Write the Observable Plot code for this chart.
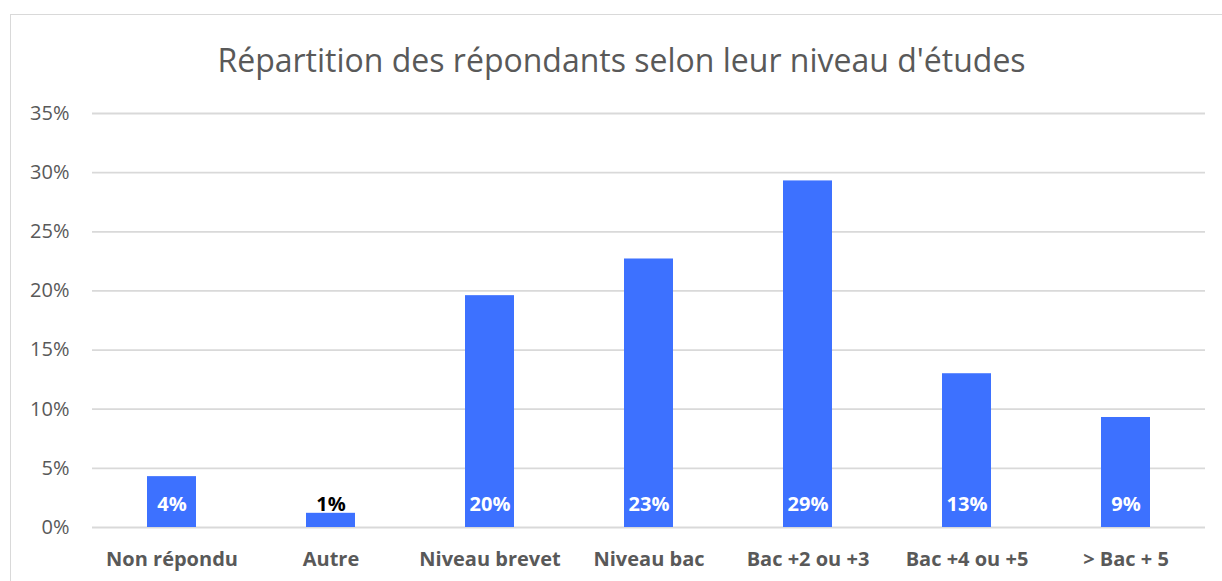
<!DOCTYPE html>
<html>
<head>
<meta charset="utf-8">
<script src="https://cdn.jsdelivr.net/npm/d3@7"></script>
<script src="https://cdn.jsdelivr.net/npm/@observablehq/plot@0.6"></script>
<style>
  html, body { margin: 0; padding: 0; background: #fff; overflow: hidden; }
  #frame { position: absolute; left: 10px; top: 14px; width: 1230px; height: 600px; border: 1.5px solid #d9d9d9; box-sizing: border-box; }
  #title { position: absolute; left: 0; top: 38px; width: 1243px; text-align: center; font-family: "Open Sans", sans-serif; font-size: 32px; color: #595959; line-height: 44px; }
  #chart { position: absolute; left: 0; top: 90px; }
</style>
</head>
<body>
<div id="frame"></div>
<div id="title">Répartition des répondants selon leur niveau d'études</div>
<div id="chart"></div>
<script>
const categories = ["Non répondu", "Autre", "Niveau brevet", "Niveau bac", "Bac +2 ou +3", "Bac +4 ou +5", "> Bac + 5"];
const values = [0.043, 0.012, 0.196, 0.227, 0.293, 0.130, 0.093];
const yTicks = [0, 0.05, 0.10, 0.15, 0.20, 0.25, 0.30, 0.35];

const data = categories.map((c, i) => ({category: c, value: values[i]}));
const fmt = d3.format(".0%");

const chart = Plot.plot({
  width: 1222,
  height: 492,
  marginLeft: 92,
  marginRight: 17,
  marginTop: 23,
  marginBottom: 55,
  style: { fontFamily: "'Open Sans', sans-serif", fontSize: "20px", color: "#595959", background: "transparent" },
  x: { domain: categories, paddingInner: 0.69, paddingOuter: 0.345, label: null },
  y: { domain: [0, 0.35], label: null },
  marks: [
    Plot.ruleY(yTicks, { stroke: "#d9d9d9", strokeWidth: 1.8 }),
    Plot.barY(data, { x: "category", y: "value", fill: "#3d71ff" }),
    Plot.text(data, {
      x: "category", y: () => 0, dy: -23,
      text: d => fmt(d.value),
      fill: d => d.category === "Autre" ? "#000000" : "#ffffff",
      fontWeight: "bold", fontSize: 20
    }),
    Plot.axisY({ ticks: yTicks, tickFormat: fmt, tickSize: 0, tickPadding: 23, label: null, fontSize: 20 }),
    Plot.axisX({ tickSize: 0, tickPadding: 24, label: null, fontWeight: "bold", fontSize: 20 })
  ]
});
document.getElementById("chart").appendChild(chart);
</script>
</body>
</html>
